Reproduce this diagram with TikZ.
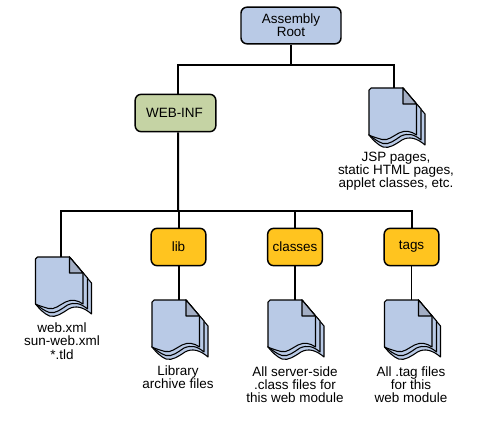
\documentclass[tikz,border=0pt]{standalone}
\usepackage{fontspec}
\setmainfont{Liberation Sans}
\definecolor{pageblue}{HTML}{B9CAE6}
\definecolor{foldblue}{HTML}{A3AEC4}
\definecolor{webgreen}{HTML}{C5D3A4}
\definecolor{diryellow}{HTML}{FFC41F}
\tikzset{
  box/.style={draw, line width=1.1pt, rounded corners=4.5pt, inner sep=0pt, align=center},
  conn/.style={line width=1.5pt},
  thinconn/.style={line width=.9pt},
  caption/.style={align=center, inner sep=0pt},
  sheet/.style={draw, line width=.8pt, line join=round, fill=pageblue},
  docicon/.pic={
    % back pages first, front page last
    \path[sheet] (34,0) -- (56,26) -- (56,57) .. controls (48,50) and (40,48) .. (33,52) .. controls (27,56) and (20,61) .. (14,59) .. controls (9,57) and (4,52) .. (0,47) -- cycle;
    \path[sheet] (34,0) -- (52,21) -- (52,52) .. controls (45,46) and (39,45) .. (32,48) .. controls (26,52) and (20,57) .. (14,55.5) .. controls (9,54) and (4,50) .. (0,47) -- cycle;
    \path[sheet] (2,0) -- (34,0) -- (47.5,16) -- (47.5,47) .. controls (42,43) and (36,42) .. (30,45) .. controls (24,48) and (19,53) .. (13,51.5) .. controls (8,50) and (4,49) .. (0,47) -- (0,2) -- cycle;
    \path[sheet, fill=foldblue] (34,0) -- (47.5,16) -- (34,16) -- cycle;
    \coordinate (-top) at (25,0);
  }
}
\begin{document}
\begin{tikzpicture}[x=0.75pt, y=-0.75pt, font=\fontsize{10.1}{9.9}\selectfont]
\useasboundingbox (0,0) rectangle (485,424);

\node[box, fill=pageblue, minimum width=75pt, minimum height=27.5pt](root) at (291,25.5) {Assembly\\Root};
\node[box, fill=webgreen, minimum width=60.5pt, minimum height=28pt](webinf) at (175.5,113) {\kern-1.5pt WEB-INF};
\node[box, fill=diryellow, minimum width=41pt, minimum height=28pt](lib) at (178.5,247) {lib};
\node[box, fill=diryellow, minimum width=41pt, minimum height=28pt](classes) at (295,247) {classes};
\node[box, fill=diryellow, minimum width=41pt, minimum height=28pt](tags) at (411.5,247) {tags};

\pic (jspdoc) at (369,88) {docicon};
\pic (webdoc) at (35.5,257) {docicon};
\pic (libdoc) at (152,300) {docicon};
\pic (classesdoc) at (268,300) {docicon};
\pic (tagsdoc) at (384.5,300) {docicon};

\node[caption](jsptext) at (396,171) {JSP pages,\\static HTML pages,\\applet classes, etc.};
\node[caption](webtext) at (62,341) {web.xml\\sun-web.xml\\*.tld};
\node[caption](libtext) at (178,377) {Library\\archive files};
\node[caption](classestext) at (295,384.5) {All server-side\\.class files for\\this web module};
\node[caption](tagstext) at (411,384.5) {All .tag files\\for this\\web module};

\coordinate (topjoin) at (root.south |- 0,65);
\coordinate (lowjoin) at (178,211);

\draw[conn] (root.south) -- (topjoin);
\draw[conn] ([xshift=1.9pt]webinf.north) |- (topjoin) -| (jspdoc-top);
\draw[conn] ([xshift=1.9pt]webinf.south) -- (lowjoin);
\draw[conn] (webdoc-top) |- (lowjoin) -| (tags.north);
\draw[conn] (lib.north) -- (lib.north |- lowjoin);
\draw[conn] (classes.north) -- (classes.north |- lowjoin);
\draw[conn] (lib.south) -- (lib.south |- libdoc-top);
\draw[conn] (classes.south) -- (classes.south |- classesdoc-top);
\draw[thinconn] (tags.south) -- (tags.south |- tagsdoc-top);
\end{tikzpicture}
\end{document}
